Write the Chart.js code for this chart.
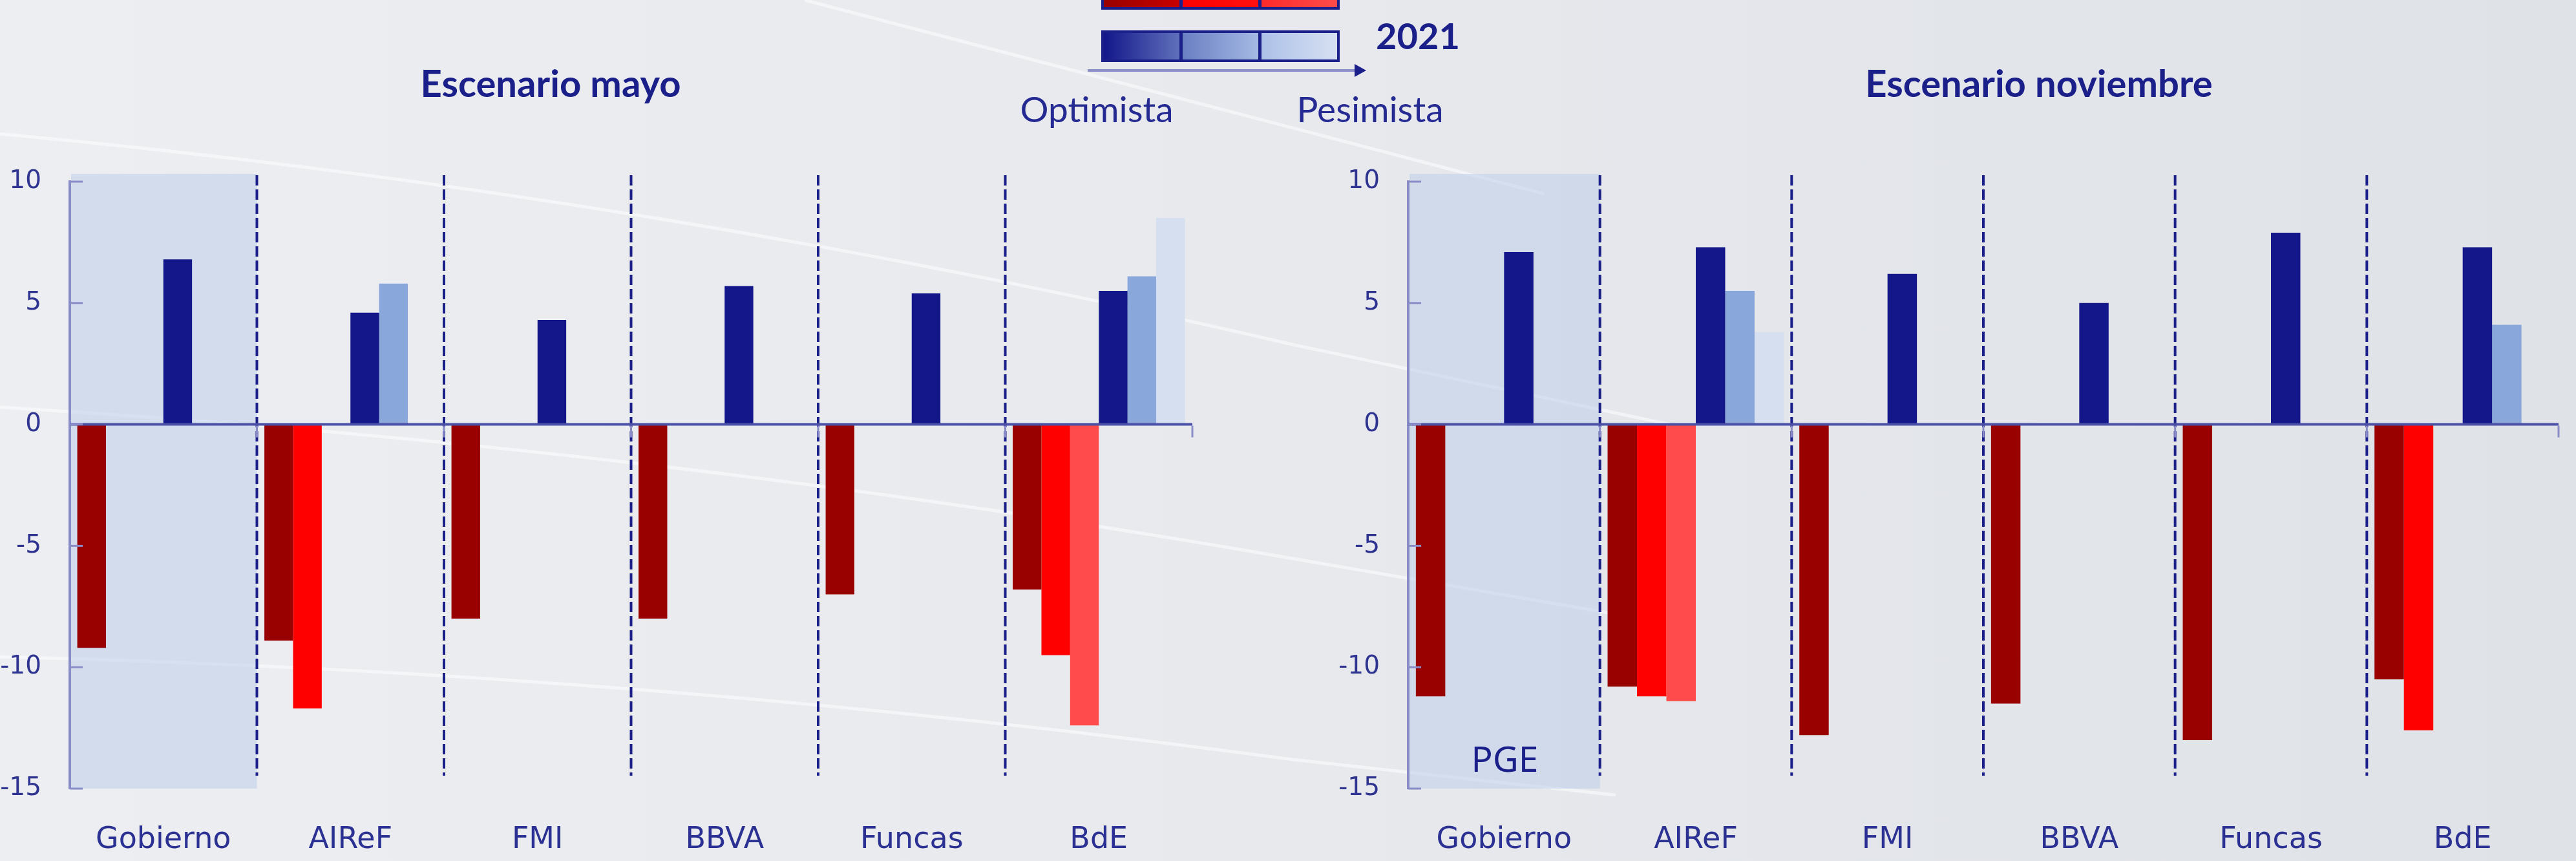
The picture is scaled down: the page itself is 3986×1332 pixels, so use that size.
<!DOCTYPE html>
<html>
<head>
<meta charset="utf-8">
<script src="https://cdn.jsdelivr.net/npm/chart.js@4.4.1/dist/chart.umd.min.js"></script>
<style>
  html, body { margin: 0; padding: 0; }
  body {
    width: 3986px; height: 1332px; position: relative; overflow: hidden;
    background: linear-gradient(90deg, #eceef1 0%, #e7e9ed 50%, #dfe2e7 100%);
    font-family: Lato, sans-serif;
  }
  .abs { position: absolute; line-height: 1; white-space: nowrap; }
  .title { font-weight: 700; font-size: 58px; color: #1b1f8a; }
  .lbl { font-size: 55px; color: #252a92; }
  .year { font-weight: 700; font-size: 56px; color: #1b1f8a; }
  .bar { position: absolute; left: 1704px; width: 361px; height: 41px; border: 4px solid #1b1f8a; display: flex; }
  .bar div { flex: 1; height: 100%; }
  .bar div + div { border-left: 5px solid #1b1f8a; }
  canvas { position: absolute; top: 200px; }
</style>
</head>
<body>
<svg class="abs" style="left:0;top:0" width="3986" height="1332">
  <g stroke="#ffffff" stroke-opacity="0.5" stroke-width="5" fill="none">
    <path d="M0 207 Q 1000 300 2000 533 L 2600 660"/>
    <path d="M0 630 Q 1000 690 2000 864 L 2500 950"/>
    <path d="M0 1016 Q 1000 1040 2000 1175 L 2500 1230"/>
    <path d="M1245 0 L 2390 300"/>
  </g>
</svg>

<div class="abs title" style="left:852px;top:99px;transform:translateX(-50%)">Escenario mayo</div>
<div class="abs title" style="left:3155px;top:99px;transform:translateX(-50%)">Escenario noviembre</div>

<div class="bar" style="top:-34px">
  <div style="background:linear-gradient(90deg,#990000,#c80000)"></div>
  <div style="background:linear-gradient(90deg,#ff0000,#ff1010)"></div>
  <div style="background:linear-gradient(90deg,#ff2a2a,#ff4b4b)"></div>
</div>
<div class="bar" style="top:47px">
  <div style="background:linear-gradient(90deg,#13178a,#6070bb)"></div>
  <div style="background:linear-gradient(90deg,#6a7fc3,#a4b9e2)"></div>
  <div style="background:linear-gradient(90deg,#adc1e7,#d6e0f2)"></div>
</div>
<div class="abs year" style="left:2129px;top:-54px">2020</div>
<div class="abs year" style="left:2129px;top:27px">2021</div>
<svg class="abs" style="left:1670px;top:95px" width="460" height="30">
  <line x1="13" y1="14" x2="430" y2="14" stroke="#8d90c6" stroke-width="4"/>
  <polygon points="426,4 444,14 426,24" fill="#1b1f8a"/>
</svg>
<div class="abs lbl" style="left:1697px;top:141px;transform:translateX(-50%)">Optimista</div>
<div class="abs lbl" style="left:2120px;top:141px;transform:translateX(-50%)">Pesimista</div>

<canvas id="mayo" width="1900" height="1132" style="left:0"></canvas>
<canvas id="noviembre" width="1915" height="1132" style="left:2071px"></canvas>

<script>
const categories = ['Gobierno', 'AIReF', 'FMI', 'BBVA', 'Funcas', 'BdE'];
const yTicks = [-15, -10, -5, 0, 5, 10];

// Escenario mayo
const mayo2020Opt = [-9.2, -8.9, -8.0, -8.0, -7.0, -6.8];
const mayo2020Med = [null, -11.7, null, null, null, -9.5];
const mayo2020Pes = [null, null, null, null, null, -12.4];
const mayo2021Opt = [6.8, 4.6, 4.3, 5.7, 5.4, 5.5];
const mayo2021Med = [null, 5.8, null, null, null, 6.1];
const mayo2021Pes = [null, null, null, null, null, 8.5];

// Escenario noviembre
const nov2020Opt = [-11.2, -10.8, -12.8, -11.5, -13.0, -10.5];
const nov2020Med = [null, -11.2, null, null, null, -12.6];
const nov2020Pes = [null, -11.4, null, null, null, null];
const nov2021Opt = [7.1, 7.3, 6.2, 5.0, 7.9, 7.3];
const nov2021Med = [null, 5.5, null, null, null, 4.1];
const nov2021Pes = [null, 3.8, null, null, null, null];

const colors = ['#990000', '#ff0000', '#ff4b4b', '#13178a', '#8aa7db', '#d5dff0'];
const navy = '#1b1f8a';
const axisBlue = '#8a8cc8';

// shaded Gobierno block, dashed separators, zero line and small ticks
const panelDecor = {
  id: 'panelDecor',
  beforeDatasetsDraw(chart, args, opts) {
    const {ctx, scales: {x, y}} = chart;
    const top = y.getPixelForValue(10) - 12;
    const bottom = y.getPixelForValue(-15);
    ctx.save();
    ctx.fillStyle = 'rgba(190,206,234,0.55)';
    const bx0 = x.getPixelForValue(-0.5) + 2;
    const bx1 = x.getPixelForValue(0.5);
    ctx.fillRect(bx0, top, bx1 - bx0, bottom - top);
    if (opts.boxLabel) {
      ctx.fillStyle = navy;
      ctx.font = '55px "Noto Sans"';
      ctx.textAlign = 'center';
      ctx.textBaseline = 'alphabetic';
      ctx.fillText(opts.boxLabel, (bx0 + bx1) / 2, y.getPixelForValue(-14.3));
    }
    ctx.strokeStyle = navy;
    ctx.lineWidth = 4;
    ctx.setLineDash([16, 6]);
    for (let i = 0; i < categories.length - 1; i++) {
      const px = x.getPixelForValue(i + 0.5);
      ctx.beginPath();
      ctx.moveTo(px, top + 2);
      ctx.lineTo(px, bottom - 20);
      ctx.stroke();
    }
    ctx.restore();
  },
  afterDatasetsDraw(chart) {
    const {ctx, chartArea, scales: {x, y}} = chart;
    const y0 = y.getPixelForValue(0);
    ctx.save();
    ctx.strokeStyle = '#4b50a6';
    ctx.lineWidth = 4;
    ctx.beginPath();
    ctx.moveTo(chartArea.left, y0);
    ctx.lineTo(chartArea.right, y0);
    ctx.stroke();
    ctx.strokeStyle = axisBlue;
    ctx.lineWidth = 3;
    for (let i = 0; i <= categories.length; i++) {
      const px = x.getPixelForValue(i - 0.5);
      ctx.beginPath();
      ctx.moveTo(px, y0 + 2);
      ctx.lineTo(px, y0 + 20);
      ctx.stroke();
    }
    yTicks.forEach(v => {
      const py = y.getPixelForValue(v);
      ctx.beginPath();
      ctx.moveTo(chartArea.left, py);
      ctx.lineTo(chartArea.left + 20, py);
      ctx.stroke();
    });
    ctx.restore();
  }
};

function makeChart(id, series, padRight, boxLabel) {
  const labels = ['2020 optimista', '2020 medio', '2020 pesimista', '2021 optimista', '2021 medio', '2021 pesimista'];
  return new Chart(document.getElementById(id), {
    type: 'bar',
    data: {
      labels: categories,
      datasets: series.map((d, i) => ({
        label: labels[i],
        data: d,
        backgroundColor: colors[i],
        borderWidth: 0,
        barPercentage: 1,
        categoryPercentage: 0.92,
      })),
    },
    options: {
      responsive: false,
      animation: false,
      layout: { padding: { top: 81, right: padRight, left: 0, bottom: 0 } },
      plugins: {
        legend: { display: false },
        tooltip: { enabled: false },
        panelDecor: { boxLabel: boxLabel },
      },
      scales: {
        x: {
          grid: { display: false, drawTicks: false },
          border: { display: false },
          ticks: {
            color: '#2b3093',
            font: { family: 'DejaVu Sans', size: 46 },
            padding: 52,
            maxRotation: 0,
            autoSkip: false,
          },
          afterFit: s => { s.height = 112; },
        },
        y: {
          min: -15,
          max: 10,
          afterBuildTicks: s => { s.ticks = yTicks.map(v => ({ value: v })); },
          grid: { display: false, drawTicks: false },
          border: { display: true, color: axisBlue, width: 4 },
          ticks: {
            color: '#2f3490',
            font: { family: 'DejaVu Sans', size: 39 },
            padding: 44,
          },
          afterFit: s => { s.width = 108; },
        },
      },
    },
    plugins: [panelDecor],
  });
}

makeChart('mayo', [mayo2020Opt, mayo2020Med, mayo2020Pes, mayo2021Opt, mayo2021Med, mayo2021Pes], 55, null);
makeChart('noviembre', [nov2020Opt, nov2020Med, nov2020Pes, nov2021Opt, nov2021Med, nov2021Pes], 27, 'PGE');
</script>
</body>
</html>
